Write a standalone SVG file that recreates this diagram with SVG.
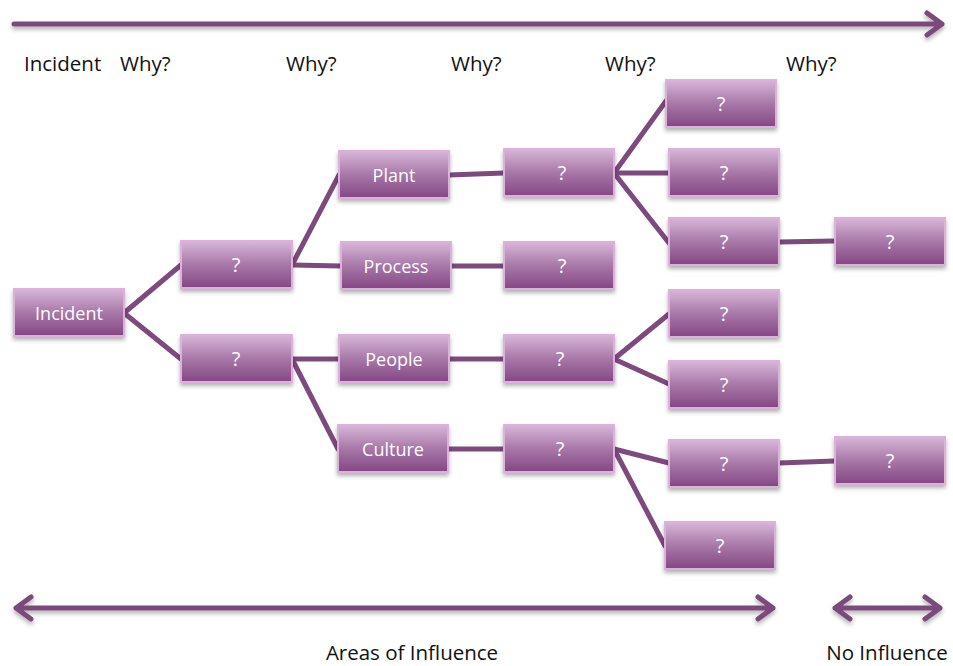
<svg xmlns="http://www.w3.org/2000/svg" width="953" height="666" viewBox="0 0 953 666">
<style>
.n rect{fill:url(#g);stroke:#dcb2dc;stroke-width:2;filter:url(#sh)}
.n text{fill:#fff;font-family:"Open Sans","Liberation Sans",sans-serif;font-size:18px;text-anchor:middle}
.n text.q{font-size:20px}
.c line{stroke:#7c4a7c;stroke-width:5;stroke-linecap:round}
.lbl{fill:#111;font-family:"Open Sans","Liberation Sans",sans-serif;font-size:20.5px}
.ar{stroke:#7c4a7c;stroke-width:5;fill:none;stroke-linecap:round;stroke-linejoin:round;filter:url(#sh)}
</style>
<defs>
<linearGradient id="g" x1="0" y1="0" x2="0" y2="1">
<stop offset="0" stop-color="#d8b6d8"/>
<stop offset="0.5" stop-color="#a878a8"/>
<stop offset="1" stop-color="#844784"/>
</linearGradient>
<filter id="sh" x="-10%" y="-30%" width="120%" height="170%">
<feDropShadow dx="0" dy="3" stdDeviation="2" flood-color="#000" flood-opacity="0.3"/>
</filter>
</defs>
<g id="timeline">
<path class="ar" d="M14 24 H942 M927 13 L942 24 L927 35"/>
<path class="ar" d="M16 608 H773 M31 597 L16 608 L31 619 M758 597 L773 608 L758 619"/>
<path class="ar" d="M835 608 H940 M850 597 L835 608 L850 619 M925 597 L940 608 L925 619"/>
</g>
<g id="labels">
<text class="lbl" x="24" y="71">Incident</text>
<text class="lbl" x="120" y="71">Why?</text>
<text class="lbl" x="286" y="71">Why?</text>
<text class="lbl" x="451" y="71">Why?</text>
<text class="lbl" x="605" y="71">Why?</text>
<text class="lbl" x="786" y="71">Why?</text>
<text class="lbl" x="412" y="660" text-anchor="middle" font-size="21">Areas of Influence</text>
<text class="lbl" x="887" y="660" text-anchor="middle" font-size="21">No Influence</text>
</g>
<g id="connectors" class="c">
<line x1="124" y1="313" x2="181" y2="265"/>
<line x1="124" y1="313" x2="181" y2="359"/>
<line x1="292" y1="265" x2="339" y2="175"/>
<line x1="292" y1="265" x2="341" y2="266"/>
<line x1="292" y1="359" x2="339" y2="359"/>
<line x1="292" y1="359" x2="338" y2="449"/>
<line x1="449" y1="175" x2="504" y2="173"/>
<line x1="451" y1="266" x2="504" y2="266"/>
<line x1="449" y1="359" x2="504" y2="359"/>
<line x1="448" y1="449" x2="504" y2="449"/>
<line x1="614" y1="173" x2="666" y2="101"/>
<line x1="614" y1="173" x2="669" y2="173"/>
<line x1="614" y1="173" x2="669" y2="243"/>
<line x1="779" y1="242" x2="835" y2="241"/>
<line x1="614" y1="359" x2="669" y2="314"/>
<line x1="614" y1="359" x2="669" y2="384"/>
<line x1="614" y1="449" x2="669" y2="463"/>
<line x1="614" y1="449" x2="665" y2="546"/>
<line x1="779" y1="463" x2="835" y2="461"/>
</g>
<g id="n-incident" class="n"><rect x="14" y="289" width="110" height="47"/><text x="69" y="320">Incident</text></g>
<g id="n-q1" class="n"><rect x="181" y="241" width="111" height="47"/><text class="q" x="236" y="272">?</text></g>
<g id="n-q2" class="n"><rect x="181" y="335" width="111" height="47"/><text class="q" x="236" y="366">?</text></g>
<g id="n-plant" class="n"><rect x="339" y="151" width="110" height="47"/><text x="394" y="182">Plant</text></g>
<g id="n-process" class="n"><rect x="341" y="242" width="110" height="47"/><text x="396" y="273">Process</text></g>
<g id="n-people" class="n"><rect x="339" y="335" width="110" height="47"/><text x="394" y="366">People</text></g>
<g id="n-culture" class="n"><rect x="338" y="425" width="110" height="47"/><text x="393" y="456">Culture</text></g>
<g id="n-p1" class="n"><rect x="504" y="149" width="110" height="47"/><text class="q" x="562" y="180">?</text></g>
<g id="n-p2" class="n"><rect x="504" y="242" width="110" height="47"/><text class="q" x="562" y="273">?</text></g>
<g id="n-p3" class="n"><rect x="504" y="335" width="110" height="47"/><text class="q" x="560" y="366">?</text></g>
<g id="n-p4" class="n"><rect x="504" y="425" width="110" height="47"/><text class="q" x="560" y="456">?</text></g>
<g id="n-r1" class="n"><rect x="666" y="80" width="110" height="47"/><text class="q" x="721" y="111">?</text></g>
<g id="n-r2" class="n"><rect x="669" y="149" width="110" height="47"/><text class="q" x="724" y="180">?</text></g>
<g id="n-r3" class="n"><rect x="669" y="218" width="110" height="47"/><text class="q" x="724" y="249">?</text></g>
<g id="n-r4" class="n"><rect x="669" y="290" width="110" height="47"/><text class="q" x="724" y="321">?</text></g>
<g id="n-r5" class="n"><rect x="669" y="361" width="110" height="47"/><text class="q" x="724" y="392">?</text></g>
<g id="n-r6" class="n"><rect x="669" y="440" width="110" height="47"/><text class="q" x="724" y="471">?</text></g>
<g id="n-r7" class="n"><rect x="665" y="522" width="110" height="47"/><text class="q" x="720" y="553">?</text></g>
<g id="n-f1" class="n"><rect x="835" y="218" width="110" height="47"/><text class="q" x="890" y="249">?</text></g>
<g id="n-f2" class="n"><rect x="835" y="437" width="110" height="47"/><text class="q" x="890" y="468">?</text></g>
</svg>
